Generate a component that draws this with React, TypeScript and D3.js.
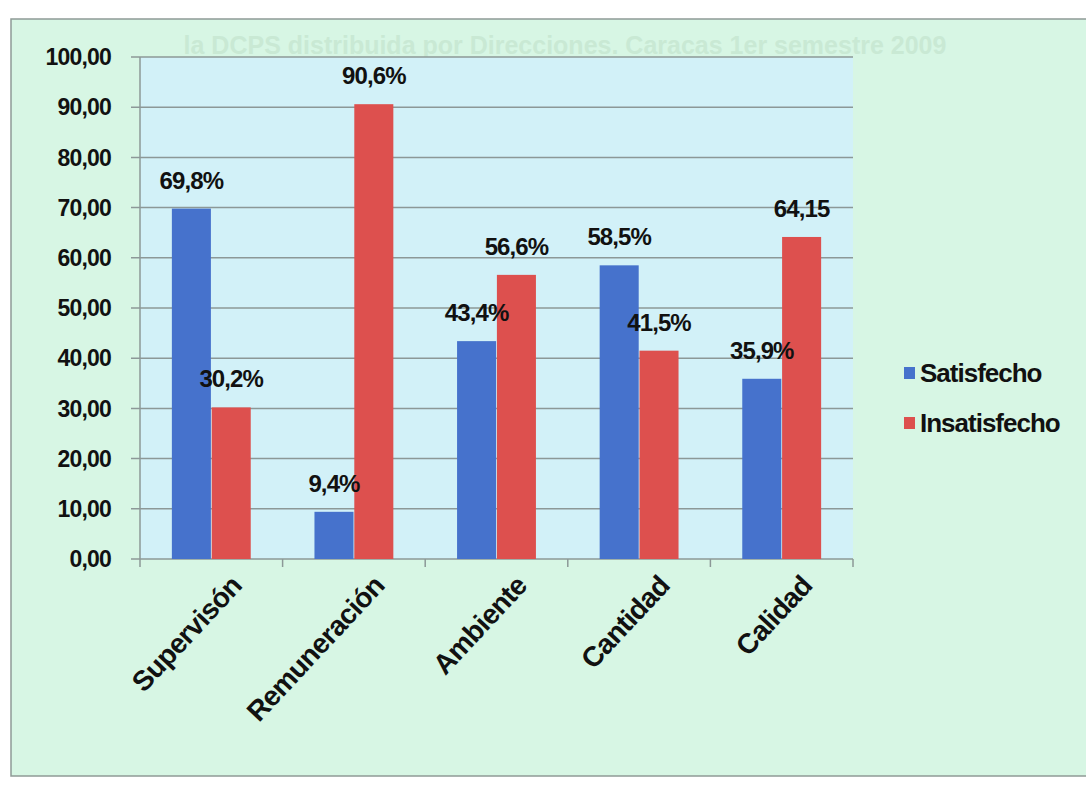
import React from "react";
import * as d3 from "d3";

const categories = ["Supervisón", "Remuneración", "Ambiente", "Cantidad", "Calidad"];
const satisfecho = [69.8, 9.4, 43.4, 58.5, 35.9];
const insatisfecho = [30.2, 90.6, 56.6, 41.5, 64.15];
const satisfechoLabels = ["69,8%", "9,4%", "43,4%", "58,5%", "35,9%"];
const insatisfechoLabels = ["30,2%", "90,6%", "56,6%", "41,5%", "64,15"];
const seriesNames = ["Satisfecho", "Insatisfecho"];
const yTicks = [0, 10, 20, 30, 40, 50, 60, 70, 80, 90, 100];
const ghostTitle = "la DCPS distribuida por Direcciones. Caracas 1er semestre 2009";

const W = 1086;
const H = 786;
const plot = { left: 140, right: 853, top: 57, bottom: 559 };
const BLUE = "#4672cc";
const RED = "#dd504e";
const FONT = "'Liberation Sans', Arial, sans-serif";

export default function App() {
  const x0 = d3
    .scaleBand<string>()
    .domain(categories)
    .range([plot.left, plot.right])
    .paddingInner(0)
    .paddingOuter(0);
  const x1 = d3
    .scaleBand<string>()
    .domain(seriesNames)
    .range([0, x0.bandwidth()])
    .paddingInner(0.02)
    .paddingOuter(0.8);
  const y = d3.scaleLinear().domain([0, 100]).range([plot.bottom, plot.top]);
  const fmt = (v: number) => d3.format(".2f")(v).replace(".", ",");

  const series = [
    { name: seriesNames[0], values: satisfecho, labels: satisfechoLabels, color: BLUE },
    { name: seriesNames[1], values: insatisfecho, labels: insatisfechoLabels, color: RED },
  ];

  return (
    <svg
      width={W}
      height={H}
      style={{ position: "absolute", left: 0, top: 0, display: "block" }}
      fontFamily={FONT}
    >
      <rect x={0} y={0} width={W} height={H} fill="#ffffff" />
      <rect x={11} y={19} width={W - 8} height={757} fill="#d7f6e4" stroke="#8f9a96" strokeWidth={1.5} />
      <text x={565} y={54} textAnchor="middle" fontSize={25} fontWeight="bold" fill="#c9e9d4">
        {ghostTitle}
      </text>
      <rect
        x={plot.left}
        y={plot.top}
        width={plot.right - plot.left}
        height={plot.bottom - plot.top}
        fill="#d2f1f8"
      />
      {yTicks.map((t) => (
        <g key={t}>
          <line
            x1={plot.left - 9}
            x2={plot.right}
            y1={y(t)}
            y2={y(t)}
            stroke="#8c9897"
            strokeWidth={1.5}
          />
          <text
            x={111}
            y={y(t)}
            dy="0.36em"
            textAnchor="end"
            fontSize={23}
            fontWeight="bold"
            fill="#111"
            letterSpacing={-0.8}
          >
            {fmt(t)}
          </text>
        </g>
      ))}
      <line x1={plot.left} x2={plot.left} y1={plot.top} y2={plot.bottom} stroke="#8c9897" strokeWidth={1.5} />
      {categories.map((c, i) => (
        <line
          key={"tk" + i}
          x1={x0(c)!}
          x2={x0(c)!}
          y1={plot.bottom}
          y2={plot.bottom + 8}
          stroke="#8c9897"
          strokeWidth={1.5}
        />
      ))}
      <line x1={plot.right} x2={plot.right} y1={plot.bottom} y2={plot.bottom + 8} stroke="#8c9897" strokeWidth={1.5} />

      {series.map((s) =>
        categories.map((c, i) => {
          const bx = x0(c)! + x1(s.name)!;
          const bw = x1.bandwidth();
          return (
            <rect
              key={s.name + c}
              x={bx}
              y={y(s.values[i])}
              width={bw}
              height={plot.bottom - y(s.values[i])}
              fill={s.color}
            />
          );
        })
      )}
      {series.map((s) =>
        categories.map((c, i) => {
          const bx = x0(c)! + x1(s.name)!;
          const bw = x1.bandwidth();
          return (
            <text
              key={"l" + s.name + c}
              x={bx + bw / 2}
              y={y(s.values[i]) - 20}
              textAnchor="middle"
              fontSize={24}
              fontWeight="bold"
              fill="#111"
              letterSpacing={-0.9}
            >
              {s.labels[i]}
            </text>
          );
        })
      )}

      {categories.map((c, i) => {
        const cx = x0(c)! + x0.bandwidth() / 2;
        return (
          <text
            key={"c" + i}
            transform={`translate(${cx + 32},${plot.bottom + 28}) rotate(-47)`}
            textAnchor="end"
            fontSize={28}
            fontWeight="bold"
            fill="#111"
            letterSpacing={-0.7}
          >
            {c}
          </text>
        );
      })}

      {series.map((s, i) => (
        <g key={"lg" + i} transform={`translate(904,${367 + i * 50})`}>
          <rect x={0} y={0} width={11} height={12} fill={s.color} />
          <text x={16} y={6} dy="0.36em" fontSize={26} fontWeight="bold" fill="#111" letterSpacing={-1}>
            {s.name}
          </text>
        </g>
      ))}
    </svg>
  );
}
